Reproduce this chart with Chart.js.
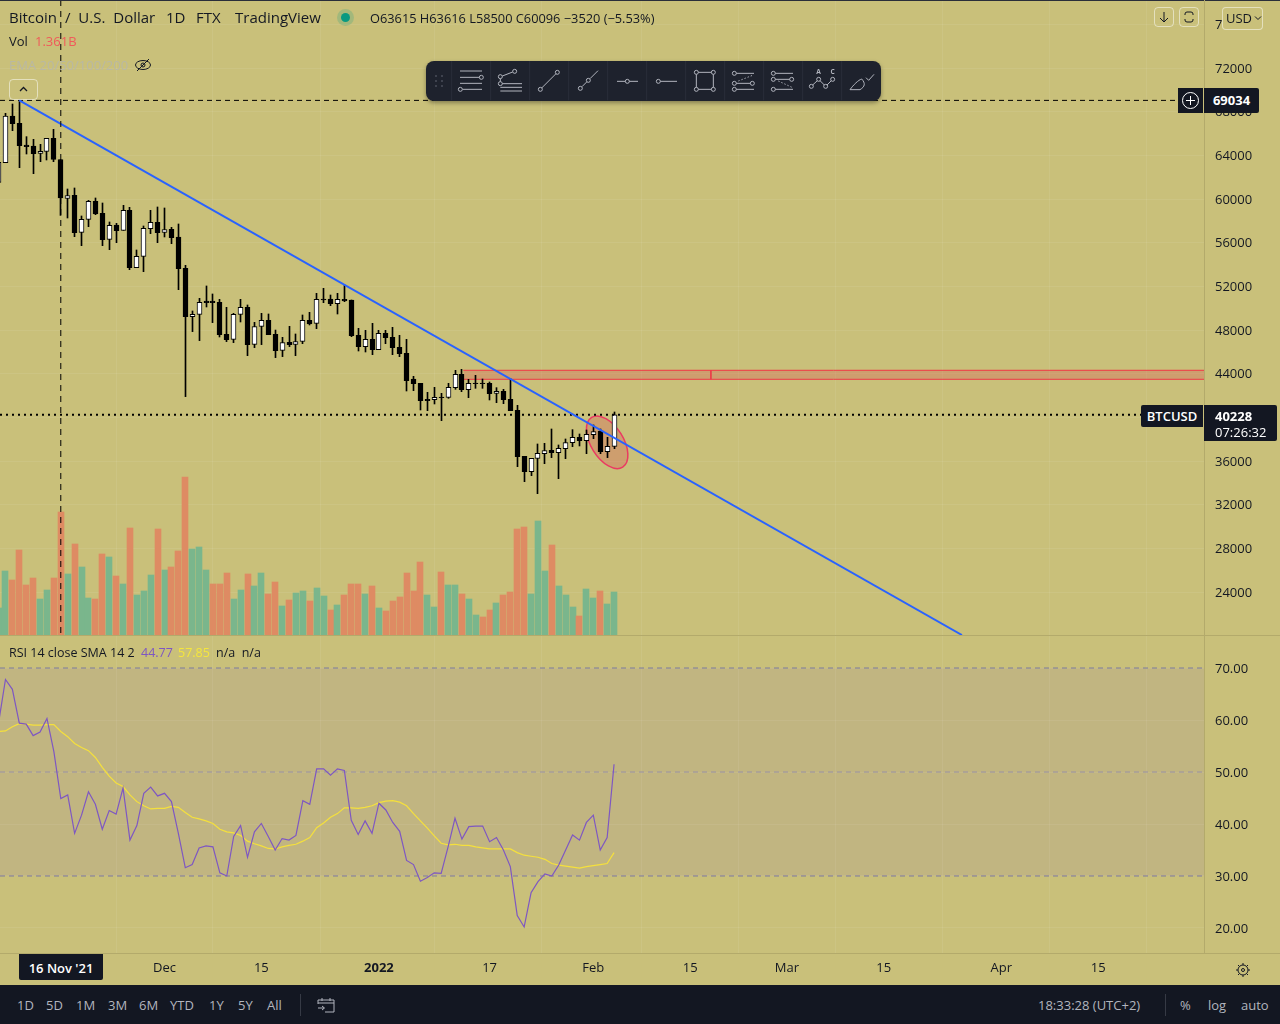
<!DOCTYPE html>
<html>
<head>
<meta charset="utf-8">
<script src="https://cdn.jsdelivr.net/npm/chart.js@4/dist/chart.umd.min.js"></script>
<style>
html,body{margin:0;padding:0;background:#c9c07a;overflow:hidden}
#wrap{position:relative;width:1280px;height:1024px;font-family:"Open Sans",sans-serif;color:#131722;font-size:13px}
#myChart{position:absolute;left:0;top:0}
.t{position:absolute;white-space:nowrap;line-height:16px}
.box{position:absolute;box-sizing:border-box}
.btn{position:absolute;box-sizing:border-box;border:1px solid rgba(255,255,255,.5);border-radius:4px}
.dark{background:#131722;color:#fff}
.per{color:#b2b5be;top:997px}
</style>
</head>
<body>
<div id="wrap">
<canvas id="myChart" width="1280" height="1024"></canvas>

<div class="box" style="left:0;top:0;width:1280px;height:1px;background:#2a2e39"></div>
<div class="box" style="left:1204px;top:0;width:1px;height:953px;background:#b3aa6b"></div>
<div class="box" style="left:0;top:635px;width:1280px;height:1px;background:#b3aa6b"></div>
<div class="box" style="left:0;top:953px;width:1280px;height:1px;background:#b3aa6b"></div>

<div class="t" style="left:9px;top:9px;font-size:15px;word-spacing:4px">Bitcoin / U.S. Dollar</div>
<div class="t" style="left:166px;top:9px;font-size:15px">1D</div>
<div class="t" style="left:196px;top:9px;font-size:15px">FTX</div>
<div class="t" style="left:235px;top:9px;font-size:15px">TradingView</div>
<div class="box" style="left:337px;top:9px;width:17px;height:17px;border-radius:50%;background:rgba(8,153,129,.2)"></div>
<div class="box" style="left:341px;top:13px;width:9px;height:9px;border-radius:50%;background:#089981"></div>
<div class="t" style="left:370px;top:10px;font-size:12.8px">O63615 H63616 L58500 C60096 −3520 (−5.53%)</div>
<div class="t" style="left:9px;top:33px">Vol</div>
<div class="t" style="left:35px;top:33px;color:#f05a5a">1.361B</div>
<div class="t" style="left:9px;top:57px;color:#b9b8a4">EMA 20/50/100/200</div>
<svg class="box" style="left:134px;top:56px" width="18" height="18" viewBox="0 0 18 18" fill="none" stroke="#131722"><ellipse cx="9" cy="9" rx="7.5" ry="4.5"/><circle cx="9" cy="9" r="2"/><line x1="3" y1="15" x2="15" y2="3"/></svg>
<div class="btn" style="left:9px;top:79px;width:29px;height:21px"></div>
<svg class="box" style="left:18px;top:85px" width="11" height="8" fill="none" stroke="#131722" stroke-width="1.3"><path d="M2 6 L5.5 2.5 L9 6"/></svg>

<div class="btn" style="left:1154px;top:7px;width:20px;height:20px"></div>
<svg class="box" style="left:1154px;top:7px" width="20" height="20" fill="none" stroke="#131722"><path d="M10 5 V15 M6 11 L10 15 L14 11"/></svg>
<div class="btn" style="left:1179px;top:7px;width:20px;height:20px"></div>
<svg class="box" style="left:1179px;top:7px" width="20" height="20" fill="none" stroke="#131722"><path d="M6 8 V7 Q6 5 8 5 H12 Q14 5 14 7 V8 M6 12 V13 Q6 15 8 15 H12 Q14 15 14 13 V12"/></svg>
<div class="box" style="left:1222px;top:7px;width:41px;height:23px;background:#c9c07a;border:1px solid rgba(255,255,255,.5);border-radius:4px"></div>
<div class="t" style="left:1226px;top:10px">USD</div>
<svg class="box" style="left:1254px;top:15px" width="8" height="6" fill="none" stroke="#131722"><path d="M1 1.5 L4 4.5 L7 1.5"/></svg>

<div class="box" style="left:426px;top:61px;width:455px;height:40px;background:#1e222d;border-radius:8px;box-shadow:0 2px 4px rgba(0,0,0,.35)"></div>
<svg class="box" style="left:420px;top:55px" width="470" height="55" viewBox="0 0 1410 165" fill="none" stroke="#b2b5be" stroke-width="3">
<g fill="#4a4e5a" stroke="none"><circle cx="48" cy="63" r="3"/><circle cx="66" cy="63" r="3"/><circle cx="48" cy="78" r="3"/><circle cx="66" cy="78" r="3"/><circle cx="48" cy="93" r="3"/><circle cx="66" cy="93" r="3"/></g>
<path stroke="#2a2e39" d="M95 18V136M212 18V136M329 18V136M446 18V136M563 18V136M680 18V136M797 18V136M914 18V136M1031 18V136M1148 18V136M1265 18V136"/>
<path d="M120 48H186M120 67H178M120 85H186M128 103H186"/><circle cx="184" cy="67" r="6"/><circle cx="121" cy="103" r="6"/>
<path d="M247 63L278 51M241 71V80M247 86H306M241 97H306M241 108H306"/><circle cx="284" cy="49" r="6"/><circle cx="241" cy="65" r="6"/><circle cx="241" cy="86" r="6"/>
<path d="M365 99L408 56"/><circle cx="361" cy="103" r="6"/><circle cx="412" cy="52" r="6"/>
<path d="M486 95L500 81M510 71L534 47"/><circle cx="481" cy="100" r="6"/><circle cx="505" cy="76" r="6"/>
<path d="M591 79H616M628 79H654"/><circle cx="622" cy="79" r="6"/>
<path d="M721 79H771"/><circle cx="715" cy="79" r="6"/>
<path d="M835 52H874M835 103H874M829 58V97M880 58V97"/><circle cx="829" cy="52" r="6"/><circle cx="880" cy="52" r="6"/><circle cx="829" cy="103" r="6"/><circle cx="880" cy="103" r="6"/>
<path d="M949 55H1002M949 85H991M949 103H1002"/><path stroke-dasharray="4 6" d="M955 78L1000 60"/><circle cx="943" cy="55" r="6"/><circle cx="943" cy="85" r="6"/><circle cx="997" cy="85" r="6"/><circle cx="943" cy="103" r="6"/>
<path d="M1066 55H1119M1066 73H1109M1066 103H1119"/><path stroke-dasharray="4 6" d="M1075 78L1118 98"/><circle cx="1060" cy="55" r="6"/><circle cx="1060" cy="73" r="6"/><circle cx="1115" cy="73" r="6"/><circle cx="1060" cy="103" r="6"/>
<path d="M1178 90L1192 77M1200 77L1213 90M1221 90L1234 77"/><circle cx="1174" cy="94" r="6"/><circle cx="1196" cy="73" r="6"/><circle cx="1217" cy="94" r="6"/><circle cx="1238" cy="73" r="6"/>
<g fill="#b2b5be" stroke="none" font-size="20" font-weight="700" text-anchor="middle"><text x="1196" y="56">A</text><text x="1238" y="56">C</text></g>
<path d="M1290 104C1300 90 1315 75 1325 72C1337 85 1335 95 1320 104ZM1338 68L1346 76L1362 58"/>
</svg>

<div class="box dark" style="left:1178px;top:88px;width:25px;height:25px"></div>
<svg class="box" style="left:1180px;top:90px" width="21" height="21" fill="none" stroke="#fff"><circle cx="10.5" cy="10.5" r="8"/><path d="M10.5 6V15M6 10.5H15"/></svg>
<div class="box dark t" style="left:1204px;top:88px;width:55px;height:25px;line-height:25px;text-align:center;font-weight:700;border-radius:0 2px 2px 0">69034</div>
<div class="box dark t" style="left:1141px;top:405px;width:62px;height:22px;line-height:22px;text-align:center;font-weight:600;border-radius:2px 0 0 2px">BTCUSD</div>
<div class="box dark" style="left:1204px;top:405px;width:73px;height:36px;border-radius:0 2px 2px 0"></div>
<div class="t" style="left:1215px;top:408px;color:#fff;font-weight:700">40228</div>
<div class="t" style="left:1215px;top:424px;color:#fff">07:26:32</div>

<div class="t" style="left:9px;top:645px;font-size:12.5px">RSI 14 close SMA 14 2</div>
<div class="t" style="left:141px;top:645px;font-size:12.5px;color:#7e57c2">44.77</div>
<div class="t" style="left:178px;top:645px;font-size:12.5px;color:#f5e63c">57.85</div>
<div class="t" style="left:216px;top:645px;font-size:12.5px">n/a&nbsp; n/a</div>

<div class="box dark t" style="left:19px;top:954px;width:84px;height:26px;line-height:28px;text-align:center;font-weight:600;border-radius:0 0 2px 2px">16 Nov '21</div>
<svg class="box" style="left:1234px;top:961px" width="18" height="18" fill="none" stroke="#131722"><circle cx="9" cy="9" r="5"/><circle cx="9" cy="9" r="1.5"/><path d="M9 2V4M9 14V16M2 9H4M14 9H16M4 4L5.5 5.5M12.5 12.5L14 14M14 4L12.5 5.5M5.5 12.5L4 14"/></svg>

<div class="box" style="left:0;top:985px;width:1280px;height:39px;background:#131722"></div>
<div class="t per" style="left:17px">1D</div>
<div class="t per" style="left:46px">5D</div>
<div class="t per" style="left:76px">1M</div>
<div class="t per" style="left:108px">3M</div>
<div class="t per" style="left:139px">6M</div>
<div class="t per" style="left:170px">YTD</div>
<div class="t per" style="left:209px">1Y</div>
<div class="t per" style="left:238px">5Y</div>
<div class="t per" style="left:267px">All</div>
<div class="box" style="left:300px;top:994px;width:1px;height:22px;background:#363a45"></div>
<svg class="box" style="left:317px;top:996px" width="18" height="18" fill="none" stroke="#b2b5be"><path d="M1 8V4H17V16H8M1 7H17M5 2V5M13 2V5M1 12H7M5 10L7.5 12L5 14"/></svg>
<div class="t per" style="left:1038px">18:33:28 (UTC+2)</div>
<div class="box" style="left:1165px;top:994px;width:1px;height:22px;background:#363a45"></div>
<div class="t per" style="left:1180px">%</div>
<div class="t per" style="left:1208px">log</div>
<div class="t per" style="left:1241px">auto</div>
</div>

<script>
// day 0 is 10 Nov 2021, first candle is day -3
var firstDay = -3

var opens = [61528,63329,67604,66932,64948,64856,64184,64367,65558,63615,60063,60337,56949,58139,59788,58689,56308,57620,57132,58964,
  53713,54750,57285,57864,56949,57224,56521,53652,49225,49438,50660,50660,50538,47607,47149,49438,50079,46691,48339,48889,
  47607,46141,46873,46691,46965,48889,48614,50841,50841,50413,50810,50749,47513,46475,47147,46200,47696,47330,46414,45864,
  43514,43117,41651,41621,41865,41834,42720,43941,42537,43147,43147,43117,42201,42384,41651,40644,36430,35026,36247,36675,
  36980,36767,37133,37682,38171,37865,38415,38751,36858,37346]
var highs = [63500,67848,68703,69034,65711,65467,65009,65558,66382,63616,60918,61009,58445,59880,60093,59635,57895,57773,59422,59238,
  55330,57529,58964,59269,59177,57407,57712,53926,49744,50904,52034,51301,50812,50079,49530,50812,50293,48706,49530,49469,
  47997,47331,48339,47637,49377,49621,51362,51818,51207,51360,52123,50749,48154,47971,48612,47971,47971,48246,47513,47147,
  43758,43117,42293,42750,42201,43117,44307,44399,43483,43849,43513,43239,42720,42567,43544,41102,36430,36247,37560,37621,
  38934,37469,38018,38873,38476,38842,39300,38934,38171,40491]
var lows = [60800,63329,66260,62872,64123,62322,63421,63574,63421,58500,58261,56552,55727,57468,58567,55727,55361,56002,57132,53529,
  53713,53346,56827,56002,56521,55911,51697,41897,47851,47027,50110,48675,47362,46935,46843,48736,45652,46385,46660,47576,
  45469,45561,46477,45652,46751,48461,48125,50505,50230,49467,50597,47391,46078,45986,45742,46200,46750,45742,45559,42414,
  42445,40674,40613,41224,39697,41743,42567,42354,41804,42659,42659,41590,41346,41254,40613,35484,34110,34660,33011,35759,
  36309,34385,36217,37316,37377,36675,38049,36675,36309,37133]
var closes = [63360,67604,66902,64887,64795,64154,64367,65558,63635,60096,60307,56918,58139,59788,58628,56277,57590,57101,58964,53713,
  54750,57315,57864,56918,57193,56460,53621,49225,49438,50538,50507,50507,47576,47118,49438,50079,46660,48309,48889,47576,
  46111,46843,46660,46935,48889,48553,50812,50749,50413,50810,50658,47482,46475,47147,46200,47696,47299,46383,45834,43361,
  43086,41529,41529,41834,41804,42750,43941,42537,43117,43086,43086,42170,42384,41621,40613,36400,35026,36247,36705,36950,
  36767,37163,37682,38171,37865,38446,38690,36858,37346,40228]

// volume in millions of USD, 1.361B on the last bar
var volumes = [855,2026,1741,2690,1583,1804,1139,1424,1804,3893,1931,2880,2152,1171,1139,2564,2469,1867,1614,3387,
  1266,1393,1899,3355,2057,2152,2659,5001,2722,2785,2057,1614,1614,1962,1139,1424,1931,1551,1962,1298,
  1677,918,1108,1329,1393,1076,1488,1234,791,950,1266,1614,1614,1298,1551,855,760,1076,1203,1962,
  1393,2310,1266,886,1994,1583,1583,1298,1139,633,570,791,1013,1266,1361,3355,3418,1298,3608,2026,
  2849,1551,1266,886,601,1456,1171,1393,981,1361]
var volumeUp = [1,1,0,0,0,0,1,1,0,0,1,0,1,1,0,0,1,0,1,0,
  1,1,1,0,1,0,0,0,1,1,1,0,0,0,1,1,0,1,1,0,
  0,1,0,1,1,0,1,1,0,1,0,0,0,1,0,1,0,0,0,0,
  0,0,1,1,0,1,1,0,1,1,0,0,1,0,0,0,0,1,1,1,
  0,1,1,1,0,1,1,0,1,1]

var rsiValues = [59.4,67.8,65.9,59.4,59.2,57.0,57.7,60.3,53.9,44.9,45.6,38.2,41.7,46.2,43.8,39.0,42.6,41.9,46.9,36.9,
  39.7,45.9,47.1,45.4,45.9,44.3,38.2,31.6,32.2,35.4,35.8,35.6,30.6,30.0,37.6,39.7,33.6,38.5,40.1,37.6,
  35.0,37.2,36.9,37.8,44.5,43.8,50.6,50.6,49.4,50.6,50.3,40.7,38.0,40.6,38.2,44.0,42.7,40.3,38.6,33.0,
  32.2,29.0,29.7,30.6,30.5,35.6,41.1,37.1,39.5,39.6,39.6,36.6,37.4,35.0,31.8,22.4,20.2,26.8,28.9,30.4,
  30.0,32.1,35.0,37.9,36.9,40.3,41.7,35.0,37.4,51.5]
var rsiSma = [57.8,57.9,58.7,59.3,59.2,59.0,59.0,59.1,59.1,57.8,56.8,55.5,54.7,54.1,52.8,50.9,49.2,47.9,47.2,45.6,
  44.3,43.5,42.9,43.0,43.0,43.4,43.2,42.2,41.3,41.0,40.6,40.1,39.0,38.5,38.3,37.8,36.7,36.2,35.8,35.3,
  35.2,35.6,35.9,36.1,36.7,37.4,39.3,40.2,41.3,42.0,43.1,43.1,43.0,43.2,43.5,44.1,44.4,44.5,44.2,43.5,
  42.0,40.6,39.2,37.7,36.3,36.0,36.1,35.9,35.9,35.6,35.4,35.2,35.2,35.2,35.2,34.5,34.0,33.8,33.6,33.2,
  32.4,32.1,31.9,31.7,31.5,31.8,32.0,32.2,32.4,34.5]

var priceTicks = [76000,72000,68000,64000,60000,56000,52000,48000,44000,40000,36000,32000,28000,24000]
var rsiTicks = [70,60,50,40,30,20]
var timeTickDays = [21,35,52,68,83,97,111,125,142,156]
var timeTickLabels = ["Dec","15","2022","17","Feb","15","Mar","15","Apr","15"]

// drawings on the chart
var trendDays = [0,136.3]
var trendPrices = [69034,20063]
var highPrice = 69034
var lastPrice = 40228
var crosshairDay = 6
var zoneTop = 44310
var zoneBottom = 43486
var zoneDays = [64.2,171.3]
var zoneHandleDay = 100
var ellipseDay = 85
var ellipsePrice = 37715

var xMin = -2.79, xMax = 171.3

function xy(xs, ys){ return xs.map(function(x,i){ return {x:x, y:ys[i]} }) }
function flat(v){ return [{x:xMin,y:v},{x:xMax,y:v}] }
function lineSet(data, axis, color, width, dash, order, extra){
  return Object.assign({type:'line', data:data, yAxisID:axis, borderColor:color, borderWidth:width, borderDash:dash||[],
    pointRadius:0, tension:0, fill:false, order:order}, extra||{})
}
// no label overhang, the panes have to fill the whole canvas
function noPad(s){ s.paddingTop = 0; s.paddingBottom = 0; s.paddingLeft = 0; s.paddingRight = 0 }

var days = opens.map(function(o,i){ return i + firstDay })
var isUp = opens.map(function(o,i){ return closes[i] >= o })
var grid = {color:'rgba(255,255,255,0.07)', drawTicks:false}
var tickFont = {family:'"Open Sans",sans-serif', size:13}

// the ellipse sits under the candles, its centre comes from the scales
var ellipsePlugin = {
  id:'ellipse',
  beforeDatasetsDraw:function(chart){
    var c = chart.ctx
    c.save()
    c.beginPath()
    c.ellipse(chart.scales.x.getPixelForValue(ellipseDay), chart.scales.yPrice.getPixelForValue(ellipsePrice), 29.3, 16.2, 58*Math.PI/180, 0, Math.PI*2)
    c.fillStyle = 'rgba(220,80,83,0.3)'
    c.fill()
    c.strokeStyle = '#ea3a62'
    c.lineWidth = 1.5
    c.stroke()
    c.restore()
  }
}

// snap bars to whole pixels, otherwise 1px wicks go blurry
var snapPlugin = {
  id:'snap',
  afterDatasetsUpdate:function(chart){
    chart.data.datasets.forEach(function(ds,i){
      if(ds.type=='line') return
      chart.getDatasetMeta(i).data.forEach(function(el){
        el.x = ds.yAxisID=='yVol' ? Math.round(el.x) : Math.floor(el.x)+0.5
      })
    })
  },
  // canvas text sits a pixel high next to the reference
  beforeDraw:function(chart){
    ;['yPrice','yRsi'].forEach(function(id){
      chart.scales[id].getLabelItems().forEach(function(it){ it.options.translation[1] += 1 })
    })
  }
}

var chart = new Chart(document.getElementById('myChart').getContext('2d'), {
  type:'bar',
  plugins:[ellipsePlugin, snapPlugin],
  data:{
    datasets:[
      lineSet(flat(70),'yRsi','#7b7a9c',1,[5,4],10,{fill:'+1', backgroundColor:'rgba(126,87,194,0.1)'}),
      lineSet(flat(30),'yRsi','#7b7a9c',1,[5,4],10),
      lineSet(flat(50),'yRsi','#9a96a0',1,[5,4],10),
      lineSet(xy(zoneDays,[zoneTop,zoneTop]),'yPrice','#f23645',1,[],9,{fill:'+1', backgroundColor:'rgba(220,80,83,0.3)'}),
      lineSet(xy(zoneDays,[zoneBottom,zoneBottom]),'yPrice','#f23645',1,[],9),
      lineSet(xy([zoneHandleDay,zoneHandleDay],[zoneTop,zoneBottom]),'yPrice','#f23645',1,[],9),
      {type:'bar', yAxisID:'yVol', order:8, grouped:false, barThickness:6, data:xy(days,volumes),
        backgroundColor:volumeUp.map(function(u){ return u ? '#7ab68c' : '#de8b63' })},
      {type:'bar', yAxisID:'yPrice', order:6, grouped:false, barThickness:1, backgroundColor:'#000',
        data:days.map(function(d,i){ return {x:d, y:[lows[i],highs[i]]} })},
      {type:'bar', yAxisID:'yPrice', order:5, grouped:false, barThickness:5, borderWidth:1, borderColor:'#000', borderSkipped:false,
        backgroundColor:isUp.map(function(u){ return u ? '#fff' : '#000' }),
        data:days.map(function(d,i){ return {x:d, y:[opens[i],closes[i]]} })},
      lineSet(flat(highPrice),'yPrice','#000',1,[5,4],4),
      lineSet(flat(lastPrice),'yPrice','#000',2,[2,4],4),
      lineSet(xy(trendDays,trendPrices),'yPrice','#2962ff',2,[],3),
      lineSet(xy(days,rsiSma),'yRsi','#f5e03c',1.2,[],3),
      lineSet(xy(days,rsiValues),'yRsi','#7e57c2',1.2,[],2),
      lineSet(xy([crosshairDay,crosshairDay],[78229,-9000]),'yPrice','#000',1,[6,5],1)
    ]
  },
  options:{
    responsive:false,
    animation:false,
    devicePixelRatio:1,
    layout:{padding:{left:0,top:0,right:0,bottom:39}},
    plugins:{legend:{display:false},tooltip:{enabled:false}},
    scales:{
      x:{
        type:'linear', offset:false, min:xMin, max:xMax, grid:grid, border:{display:false},
        afterBuildTicks:function(s){ s.ticks = timeTickDays.map(function(d){ return {value:d} }) },
        afterFit:function(s){ s.height = 32; noPad(s) },
        ticks:{
          autoSkip:false, maxRotation:0, padding:7, color:'#131722',
          callback:function(v){ return timeTickLabels[timeTickDays.indexOf(v)] },
          font:function(ctx){ return ctx.tick && ctx.tick.value==52 ? {family:tickFont.family,size:13,weight:'bold'} : tickFont }
        }
      },
      yPrice:{
        position:'right', stack:'panes', stackWeight:635, min:20063, max:78229, grid:grid, border:{display:false},
        afterBuildTicks:function(s){ s.ticks = priceTicks.map(function(v){ return {value:v} }) },
        afterFit:function(s){ s.width = 76; noPad(s) },
        ticks:{autoSkip:false, padding:11, color:'#131722', font:tickFont, callback:function(v){ return String(v) }}
      },
      yRsi:{
        position:'right', stack:'panes', stackWeight:318, min:15.19, max:76.35, grid:grid, border:{display:false},
        afterBuildTicks:function(s){ s.ticks = rsiTicks.map(function(v){ return {value:v} }) },
        afterFit:function(s){ s.width = 76; noPad(s) },
        ticks:{autoSkip:false, padding:11, color:'#131722', font:tickFont, callback:function(v){ return v.toFixed(2) }}
      },
      yVol:{position:'right', display:false, min:-10065, max:20098}
    }
  }
})
</script>
</body>
</html>
